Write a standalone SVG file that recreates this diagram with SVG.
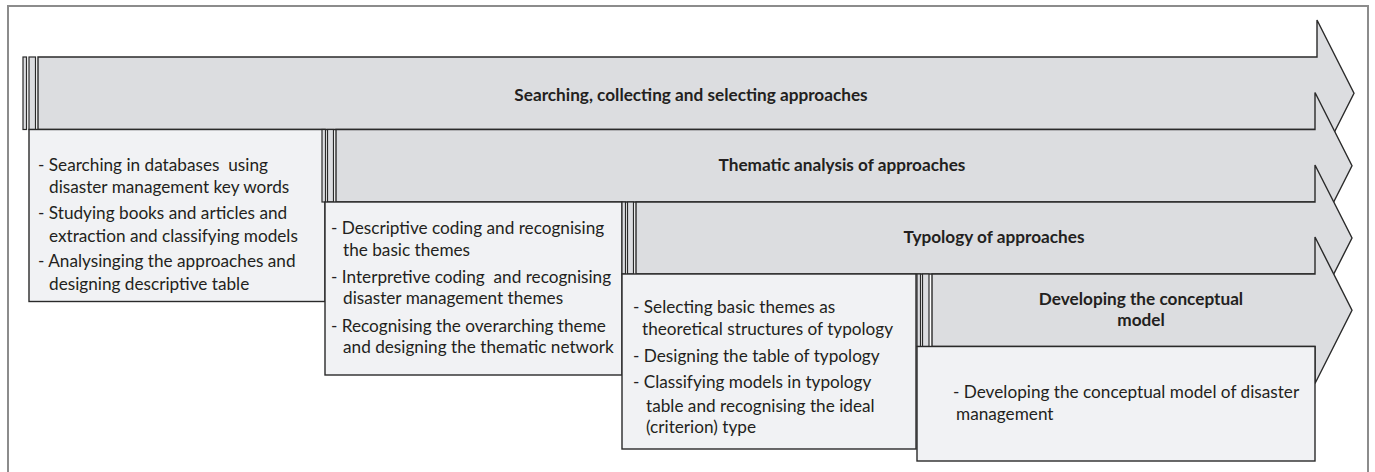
<svg xmlns="http://www.w3.org/2000/svg" width="1375" height="472" viewBox="0 0 1375 472">
<style>
.frame{fill:#ffffff;stroke:#8c8c8c;stroke-width:2}
.arr{fill:#dcdde0;stroke:#2a2a2a;stroke-width:1.4;stroke-linejoin:miter}
.bar{fill:#dcdde0;stroke:#2a2a2a;stroke-width:1.2}
.box{fill:#f1f2f4;stroke:#2a2a2a;stroke-width:1.4}
.t{font-family:Lato,"Liberation Sans",sans-serif;font-size:17.2px;fill:#231f20;white-space:pre}
.h{font-family:Lato,"Liberation Sans",sans-serif;font-size:17.2px;font-weight:bold;fill:#231f20;text-anchor:middle}
</style>
<rect class="frame" x="8" y="6" width="1360" height="468"/>
<g id="connectors"/>
<g id="arrow1">
<rect class="bar" x="23" y="57" width="3.5" height="72.5"/>
<rect class="bar" x="29" y="57" width="6.5" height="72.5"/>
<path class="arr" d="M38,57 H1317 V20 L1354,93.25 L1317,166.5 V129.5 H38 Z"/>
<text class="h" x="691" y="101">Searching, collecting and selecting approaches</text>
</g>
<g id="box1">
<rect class="box" x="29" y="129.5" width="296" height="172"/>
<text class="t" x="38" y="171">- Searching in databases  using</text>
<text class="t" x="49" y="193">disaster management key words</text>
<text class="t" x="38" y="219">- Studying books and articles and</text>
<text class="t" x="49" y="242">extraction and classifying models</text>
<text class="t" x="38" y="267">- Analysinging the approaches and</text>
<text class="t" x="49" y="290">designing descriptive table</text>
</g>
<g id="arrow2">
<rect class="bar" x="322" y="129.5" width="3.5" height="72.5"/>
<rect class="bar" x="327.5" y="129.5" width="6" height="72.5"/>
<path class="arr" d="M336,129.5 H1315 V92.5 L1352,165.75 L1315,239 V202 H336 Z"/>
<text class="h" x="842" y="171">Thematic analysis of approaches</text>
</g>
<g id="box2">
<rect class="box" x="325" y="202" width="297" height="173"/>
<text class="t" x="331" y="234">- Descriptive coding and recognising</text>
<text class="t" x="343" y="256">the basic themes</text>
<text class="t" x="331" y="283">- Interpretive coding  and recognising</text>
<text class="t" x="343" y="304">disaster management themes</text>
<text class="t" x="331" y="332">- Recognising the overarching theme</text>
<text class="t" x="343" y="353">and designing the thematic network</text>
</g>
<g id="arrow3">
<rect class="bar" x="622" y="202" width="3.5" height="72"/>
<rect class="bar" x="627.5" y="202" width="6" height="72"/>
<path class="arr" d="M636,202 H1315 V165 L1352,238 L1315,311 V274 H636 Z"/>
<text class="h" x="994" y="243">Typology of approaches</text>
</g>
<g id="box3">
<rect class="box" x="622" y="274" width="294" height="175"/>
<text class="t" x="633" y="313">- Selecting basic themes as</text>
<text class="t" x="642" y="335">theoretical structures of typology</text>
<text class="t" x="633" y="362">- Designing the table of typology</text>
<text class="t" x="633" y="388">- Classifying models in typology</text>
<text class="t" x="646" y="412">table and recognising the ideal</text>
<text class="t" x="646" y="433">(criterion) type</text>
</g>
<g id="arrow4">
<rect class="bar" x="917" y="274" width="3.5" height="72.5"/>
<rect class="bar" x="922.5" y="274" width="6.5" height="72.5"/>
<path class="arr" d="M932,274 H1315 V237 L1352,310.25 L1315,383.5 V346.5 H932 Z"/>
<text class="h" x="1141" y="305">Developing the conceptual</text>
<text class="h" x="1141" y="326">model</text>
</g>
<g id="box4">
<rect class="box" x="917" y="346.5" width="398" height="114.5"/>
<text class="t" x="953" y="398">- Developing the conceptual model of disaster</text>
<text class="t" x="956" y="420">management</text>
</g>
</svg>
